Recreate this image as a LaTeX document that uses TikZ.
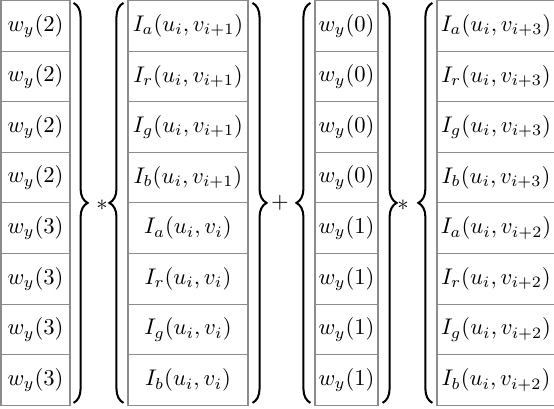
\documentclass[tikz,border=0pt]{standalone}
\usetikzlibrary{positioning,calc,decorations.pathreplacing}
\tikzset{
  cell/.style={draw=black!45, line width=0.5pt, inner sep=0pt, minimum height=22.37pt},
  curly/.style={decorate, decoration={brace, amplitude=6.2pt}, line width=0.9pt}
}

\begin{document}
\begin{tikzpicture}[x=0.442pt, y=0.442pt]
    \useasboundingbox (0,0) rectangle (554,-409);
    % the four columns of cells
    \foreach \lab [count=\i] in {2,2,2,2,3,3,3,3}
      \node[cell, minimum width=30.5pt] (a\i) at (35.5,{-0.5-50.6*(\i-0.5)}) {$w_y(\lab)$};
    \foreach \ch/\vv [count=\i] in {a/{i+1},r/{i+1},g/{i+1},b/{i+1},a/i,r/i,g/i,b/i}
      \node[cell, minimum width=53pt] (b\i) at (188,{-0.5-50.6*(\i-0.5)}) {$I_\ch(u_i,v_{\vv})$};
    \foreach \lab [count=\i] in {0,0,0,0,1,1,1,1}
      \node[cell, minimum width=27.85pt] (c\i) at (346.5,{-0.5-50.6*(\i-0.5)}) {$w_y(\lab)$};
    \foreach \ch/\vv [count=\i] in {a/{i+3},r/{i+3},g/{i+3},b/{i+3},a/{i+2},r/{i+2},g/{i+2},b/{i+2}}
      \node[cell, minimum width=52.2pt] (d\i) at (496,{-0.5-50.6*(\i-0.5)}) {$I_\ch(u_i,v_{\vv})$};
    % braces round each column
    \draw[curly] ($(a1.north east)+(3,-3)$) -- ($(a8.south east)+(3,3)$);
    \draw[curly] ($(b8.south west)+(-4,3)$) -- ($(b1.north west)+(-4,-3)$);
    \draw[curly] ($(b1.north east)+(4,-3)$) -- ($(b8.south east)+(4,3)$);
    \draw[curly] ($(c8.south west)+(-4,3)$) -- ($(c1.north west)+(-4,-3)$);
    \draw[curly] ($(c1.north east)+(4,-3)$) -- ($(c8.south east)+(4,3)$);
    \draw[curly] ($(d8.south west)+(-4,3)$) -- ($(d1.north west)+(-4,-3)$);
    % operators
    \node (op1) at (102,-205) {$*$};
    \node (op2) at (280,-203) {$+$};
    \node (op3) at (403,-205) {$*$};
\end{tikzpicture}
\end{document}
